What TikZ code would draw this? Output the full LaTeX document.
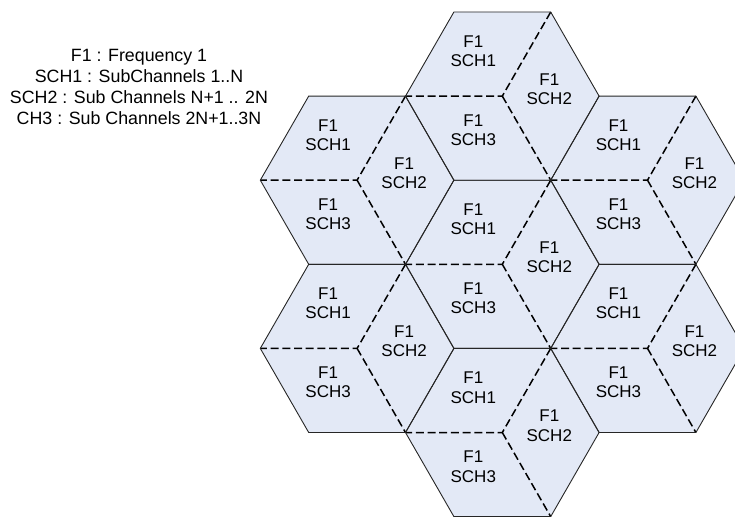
\documentclass[tikz,border=0pt]{standalone}
\usepackage{fontspec}
\setmainfont{Liberation Sans}
\definecolor{cellfill}{RGB}{227,233,246}
\tikzset{
  hexfill/.style={fill=cellfill, draw=none},
  hexedge/.style={draw=black!85, line width=0.9pt, line join=miter},
  split/.style={draw=black, line width=1.5pt, dash pattern=on 8pt off 3.7pt},
  lbl/.style={font=\fontsize{17}{19.5}\selectfont, align=center, inner sep=0pt},
  legend/.style={font=\fontsize{17.8}{21}\selectfont, anchor=base, inner sep=0pt}
}
\newcommand{\hexpath}{(-96.8,0) -- (-48.4,-84.1) -- (48.4,-84.1) -- (96.8,0) -- (48.4,84.1) -- (-48.4,84.1) -- cycle}
\begin{document}
\begin{tikzpicture}[x=1pt,y=-1pt]
\useasboundingbox (0,0) rectangle (735,516);
\def\cells{T/502.3/96.1, C/502.3/264.3, B/502.3/432.5, UL/357.1/180.2, LL/357.1/348.4, UR/647.5/180.2, LR/647.5/348.4}
% fills
\foreach \n/\cx/\cy in \cells {
  \begin{scope}[shift={(\cx,\cy)}]
    \path[hexfill] \hexpath;
  \end{scope}
}
% dashed splits
\foreach \n/\cx/\cy in \cells {
  \begin{scope}[shift={(\cx,\cy)}]
    \draw[split] (48.4,-84.1) -- (0,0) -- (-96.8,0);
    \draw[split] (0,0) -- (48.4,84.1);
  \end{scope}
}
% outlines
\foreach \n/\cx/\cy in \cells {
  \begin{scope}[shift={(\cx,\cy)}]
    \draw[hexedge] \hexpath;
  \end{scope}
}
% labels
\foreach \n/\cx/\cy in \cells {
  \node[lbl] (\n-1) at ({\cx-29},{\cy-45}) {F1\\SCH1};
  \node[lbl] (\n-2) at ({\cx+47},{\cy-7}) {F1\\SCH2};
  \node[lbl] (\n-3) at ({\cx-29},{\cy+34}) {F1\\SCH3};
}
% legend
\node[legend] (leg1) at (139,61.5) {F1 : Frequency 1};
\node[legend] (leg2) at (139,82.5) {SCH1 : SubChannels 1..N};
\node[legend] (leg3) at (139,103.7) {SCH2 : Sub Channels N+1 .. 2N};
\node[legend] (leg4) at (139,124.7) {CH3 : Sub Channels 2N+1..3N};
\end{tikzpicture}
\end{document}
